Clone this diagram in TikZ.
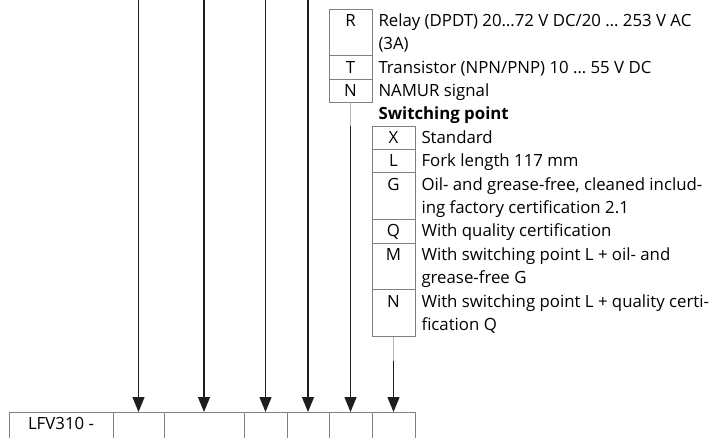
\documentclass[tikz,border=0pt]{standalone}
\usepackage{fontspec}
\setmainfont{Open Sans}
\usetikzlibrary{arrows.meta, positioning}
\definecolor{linegray}{HTML}{808080}
\definecolor{leadgray}{HTML}{B4B4B4}
\definecolor{arrowblack}{HTML}{1E1E1E}
\newcommand{\codelines}[2]{\vtop{\hbox{\strut #1}\hbox{\strut #2}}}

\begin{document}
\begin{tikzpicture}[x=1pt, y=-1pt, font=\fontsize{16.8}{23.4}\selectfont]
\tikzset{code/.style={draw=linegray, line width=0.8pt, inner sep=0pt, outer sep=0pt, minimum width=43pt, text height=17.4pt, text depth=6pt},
  code2/.style={code, text depth=29.4pt},
  desc/.style={anchor=base west, inner sep=0pt, outer sep=0pt},
  cell/.style={draw=linegray, line width=0.8pt, inner sep=0pt, outer sep=0pt, text height=17.4pt, text depth=14pt},
  pick/.style={draw=arrowblack, line width=1.3pt, -{Triangle[length=15pt, width=12pt]}},
  lead/.style={draw=leadgray, line width=1pt}}
  \useasboundingbox (0,0) rectangle (715,438);
  \clip (0,0) rectangle (715,438);

  % output
  \node [code2, anchor=north west] (R) at (329,9) {R};
  \node [code, below=0pt of R] (T) {T};
  \node [code, below=0pt of T] (N1) {N};
  \node [desc] (Rtext) at ([xshift=6.5pt]R.base east) {\codelines{Relay (DPDT) 20…72 V DC/20 … 253 V AC}{(3A)}};
  \node [desc] (Ttext) at ([xshift=6.5pt]T.base east) {Transistor (NPN/PNP) 10 … 55 V DC};
  \node [desc] (N1text) at ([xshift=6.5pt]N1.base east) {NAMUR signal};

  % switching point
  \node [desc] (SP) at ([xshift=6.5pt, yshift=-23.4pt]N1.base east) {\textbf{Switching point}};
  \node [code, below=23.4pt of N1.south east, anchor=north west] (X) {X};
  \node [code, below=0pt of X] (L) {L};
  \node [code2, below=0pt of L] (G) {G};
  \node [code, below=0pt of G] (Q) {Q};
  \node [code2, below=0pt of Q] (M) {M};
  \node [code2, below=0pt of M] (N2) {N};
  \node [desc] (Xtext) at ([xshift=6.5pt]X.base east) {Standard};
  \node [desc] (Ltext) at ([xshift=6.5pt]L.base east) {Fork length 117 mm};
  \node [desc] (Gtext) at ([xshift=6.5pt]G.base east) {\codelines{Oil- and grease-free, cleaned includ-}{ing factory certification 2.1}};
  \node [desc] (Qtext) at ([xshift=6.5pt]Q.base east) {With quality certification};
  \node [desc] (Mtext) at ([xshift=6.5pt]M.base east) {\codelines{With switching point L + oil- and}{grease-free G}};
  \node [desc] (N2text) at ([xshift=6.5pt]N2.base east) {\codelines{With switching point L + quality certi-}{fication Q}};

  % type code
  \node [cell, minimum width=104pt, anchor=north west] (C0) at (9,412) {LFV310 -};
  \foreach \w [count=\i from 1, remember=\i as \j (initially 0)] in {51,80,43,42,43,43}
    \node [cell, minimum width=\w pt, right=0pt of C\j] (C\i) {};

  \foreach \i in {1,...,4} {
    \coordinate (top\i) at (C\i.north |- 0,0);
    \draw [pick] (top\i) -- (C\i.north);
  }
  \coordinate (Rjoin) at (N1.south |- X.north);
  \draw [lead] (N1.south) -- (Rjoin);
  \draw [pick] (Rjoin) -- (C5.north);
  \coordinate (Xjoin) at ([yshift=-24pt]N2.south);
  \draw [lead] (N2.south) -- (Xjoin);
  \draw [pick] (Xjoin) -- (C6.north);
\end{tikzpicture}
\end{document}
